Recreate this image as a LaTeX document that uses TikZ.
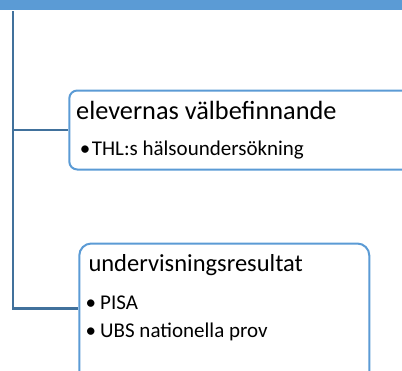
\documentclass[tikz,border=0pt]{standalone}
\usepackage{fontspec}
\setmainfont{Carlito}
\usetikzlibrary{positioning,calc}
\definecolor{barblue}{HTML}{5B9BD5}
\definecolor{trunkblue}{HTML}{41719C}
\definecolor{boxblue}{HTML}{5B9BD5}
\tikzstyle{headbar} = [fill=barblue,draw=none,inner sep=0pt,anchor=north west]
\tikzstyle{branch} = [draw=trunkblue,line width=2.2pt]
\tikzstyle{topic} = [draw=boxblue,line width=2pt,fill=white,inner sep=0pt,anchor=north west]
\tikzstyle{title} = [inner sep=0pt,anchor=base west]
\tikzstyle{item} = [font=\fontsize{21}{25}\selectfont,inner sep=0pt,anchor=base west]
\newcommand{\bul}[1]{\llap{•\kern#1}}

\begin{document}
\begin{tikzpicture}[x=1pt,y=-1pt]
	\useasboundingbox (0,0) rectangle (402,370);
	\clip (0,0) rectangle (402,370);
	\node (bar)[headbar,minimum width=402pt,minimum height=9.5pt] at (0,0) {};

	\coordinate (top) at (13,11);
	\coordinate (j1) at (13,130);
	\coordinate (j2) at (13,308.5);

	\node (welfare)[topic,minimum width=360pt,minimum height=79pt,rounded corners=8pt] at (68.3,89.5) {};
	\node (results)[topic,minimum width=290pt,minimum height=140pt,rounded corners=12pt] at (78.3,242.5) {};

	\draw[branch] (top) -- (j2) -- (results.west |- j2);
	\draw[branch] (j1) -- (welfare.west |- j1);

	\node (welfaret)[title,font=\fontsize{26.3}{31}\selectfont] at (76,119) {elevernas välbefinnande};
	\node (thl)[item] at (91.7,155.7) {\bul{1.5pt}THL:s hälsoundersökning};

	\node (resultst)[title,font=\fontsize{24.5}{29}\selectfont] at (88.3,271) {undervisningsresultat};
	\node (pisa)[item] at (100,309) {\bul{4pt}PISA};
	\node (ubs)[item] at (100,337.7) {\bul{4pt}UBS nationella prov};
\end{tikzpicture}
\end{document}
